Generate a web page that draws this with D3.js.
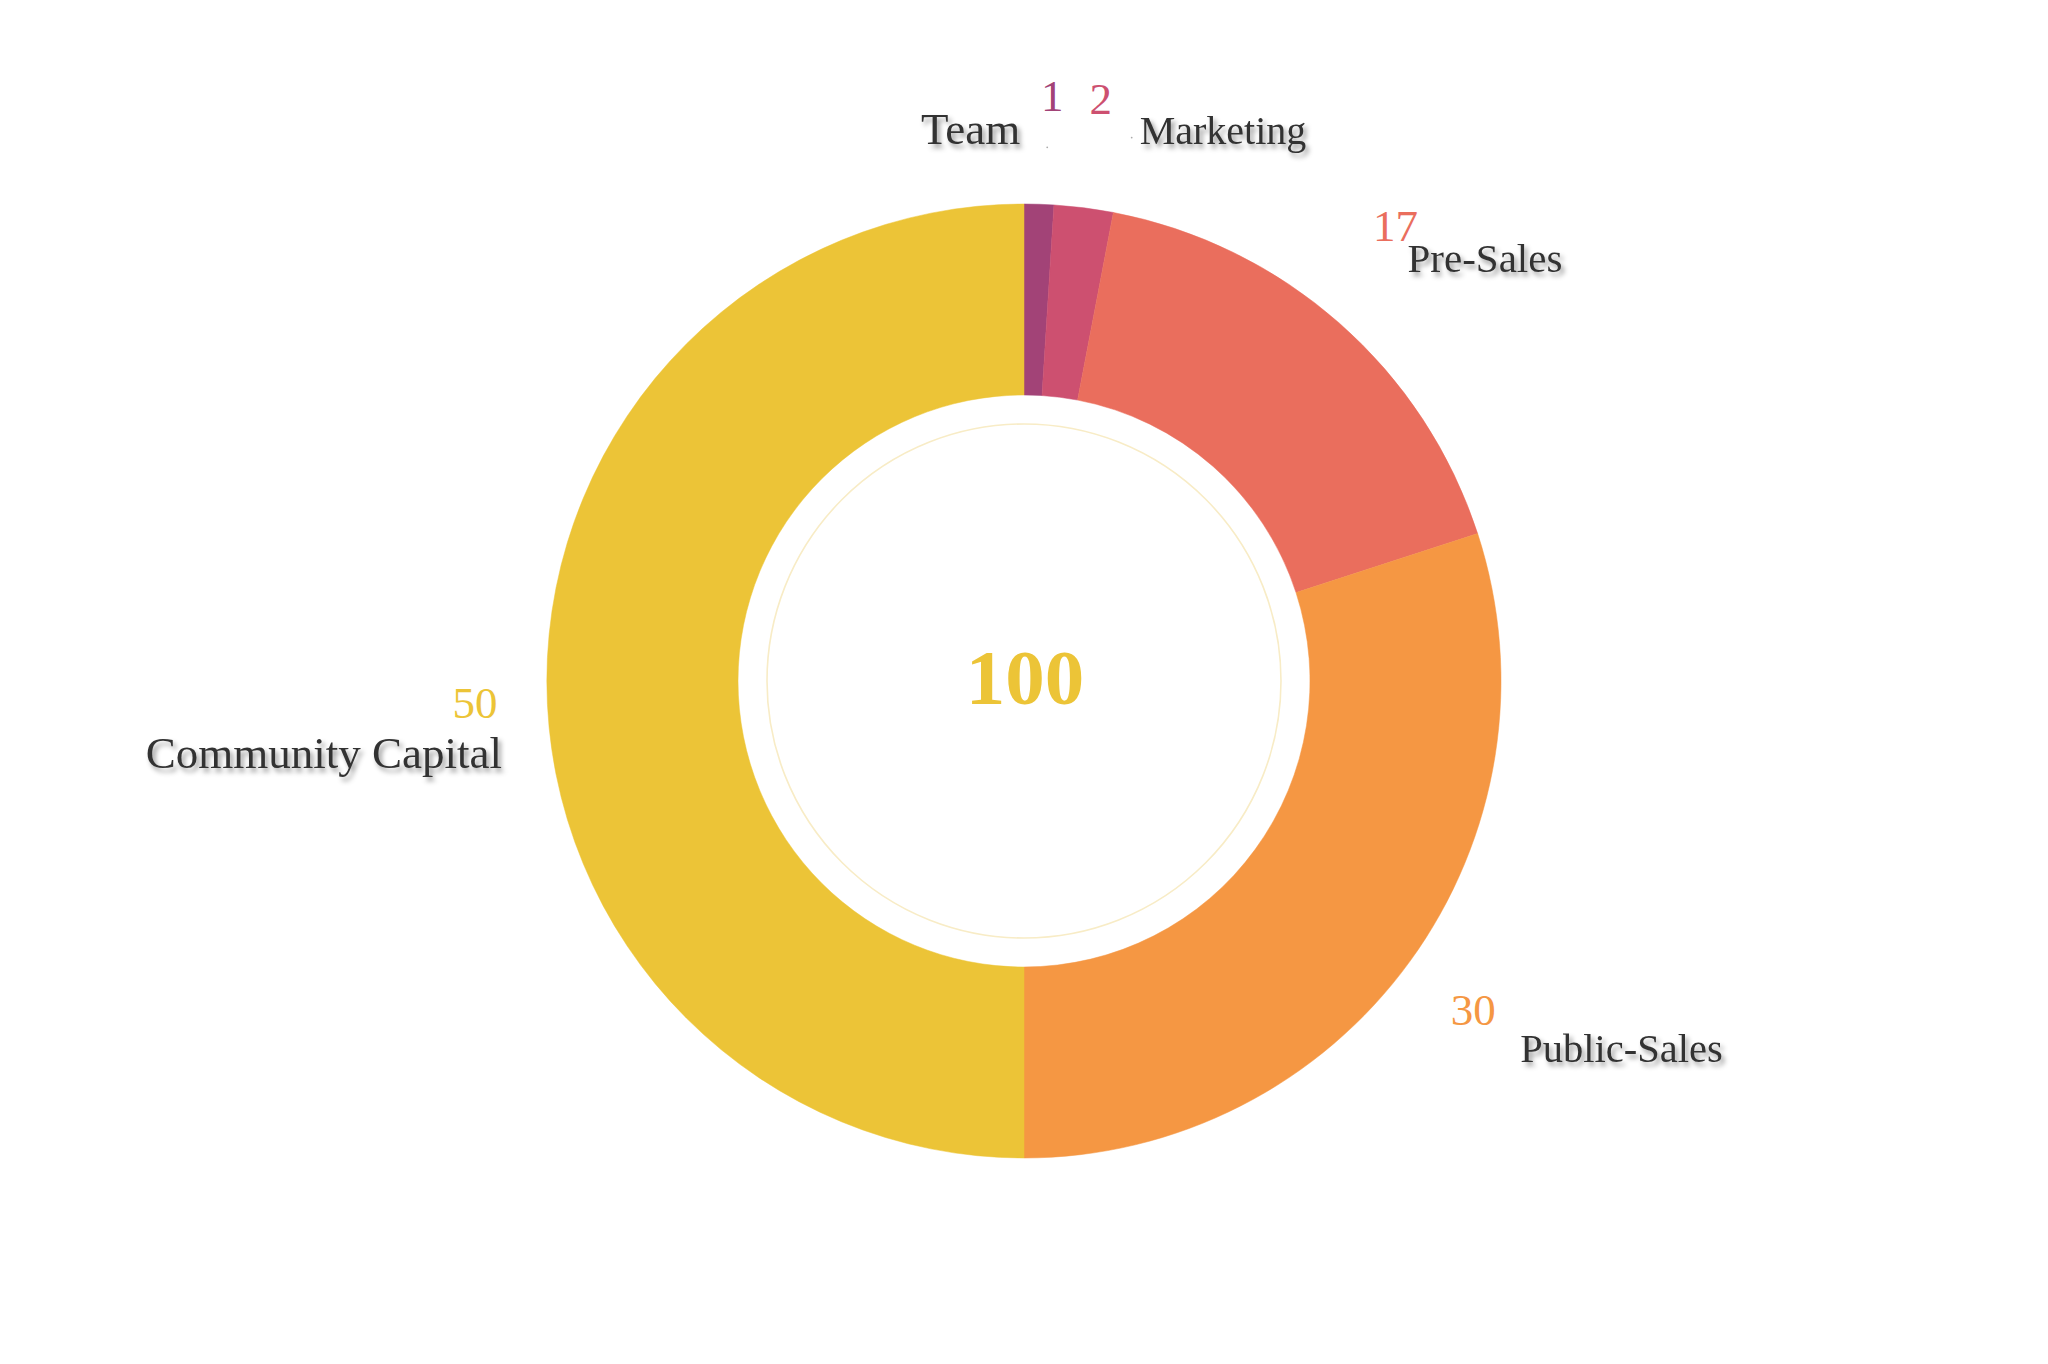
<!DOCTYPE html>
<html>
<head>
<meta charset="utf-8">
<script src="https://cdn.jsdelivr.net/npm/d3@7"></script>
<style>
  html, body { margin: 0; padding: 0; background: #ffffff; }
  svg { display: block; }
</style>
</head>
<body>
<svg id="chart" width="2048" height="1364"></svg>
<script>
// ---- data ----
const categories = ["Team", "Marketing", "Pre-Sales", "Public-Sales", "Community Capital"];
const values = [1, 2, 17, 30, 50];
const colors = ["#a24377", "#cd5070", "#ea6e5d", "#f59743", "#ecc437"];
const totalLabel = "100";

// ---- layout (label nudges, not data) ----
const numOffsets = [[10, 10], [4, 8], [-12, -5], [-20, 3], [31, 37]];
const nameLayout = [
  { anchor: "end",   dx: -32, dy: 33, size: 45 },
  { anchor: "start", dx: 39,  dy: 30, size: 40 },
  { anchor: "start", dx: 12,  dy: 31, size: 41 },
  { anchor: "start", dx: 47,  dy: 37, size: 40.5 },
  { anchor: "end",   dx: 27,  dy: 50, size: 45 }
];

const cx = 1024, cy = 681;
const outerR = 477, innerR = 286, ringR = 257, labelR = 580;

const svg = d3.select("#chart");
const defs = svg.append("defs");
const f = defs.append("filter").attr("id", "shadow")
  .attr("x", "-20%").attr("y", "-40%").attr("width", "140%").attr("height", "180%");
f.append("feDropShadow").attr("dx", 3).attr("dy", 4).attr("stdDeviation", 2.6)
  .attr("flood-color", "#000").attr("flood-opacity", 0.4);

const g = svg.append("g").attr("transform", `translate(${cx},${cy})`);

const data = categories.map((c, i) => ({ name: c, value: values[i], color: colors[i], i }));
const pie = d3.pie().value(d => d.value).sort(null);
const arcs = pie(data);

const arc = d3.arc().innerRadius(innerR).outerRadius(outerR);
const labelArc = d3.arc().innerRadius(labelR).outerRadius(labelR);

g.selectAll("path.slice").data(arcs).enter().append("path")
  .attr("class", "slice")
  .attr("d", arc)
  .attr("fill", d => d.data.color)
  .attr("stroke", d => d.data.color)
  .attr("stroke-width", 0.5);

// inner thin ring
g.append("circle").attr("r", ringR).attr("fill", "none")
  .attr("stroke", "#f8ecc6").attr("stroke-width", 1.6);

// center total
g.append("text").attr("x", 1).attr("y", 23)
  .attr("text-anchor", "middle")
  .attr("font-family", "'Liberation Serif', 'Times New Roman', serif")
  .attr("font-weight", "bold").attr("font-size", 79)
  .attr("fill", colors[4]).text(totalLabel);

// labels
const numPos = d => {
  const c = labelArc.centroid(d);
  const o = numOffsets[d.data.i];
  return [c[0] + o[0], c[1] + o[1]];
};
const lbl = g.selectAll("g.lbl").data(arcs).enter().append("g").attr("class", "lbl");
lbl.append("text")
  .attr("x", d => numPos(d)[0])
  .attr("y", d => numPos(d)[1])
  .attr("text-anchor", "middle")
  .attr("font-family", "'Liberation Serif', 'Times New Roman', serif")
  .attr("font-size", 45)
  .attr("fill", d => d.data.color)
  .text(d => d.data.value);

lbl.append("text")
  .attr("x", d => numPos(d)[0] + nameLayout[d.data.i].dx)
  .attr("y", d => numPos(d)[1] + nameLayout[d.data.i].dy)
  .attr("text-anchor", d => nameLayout[d.data.i].anchor)
  .attr("font-family", "'Liberation Serif', 'Times New Roman', serif")
  .attr("font-size", d => nameLayout[d.data.i].size)
  .attr("fill", "#333333")
  .attr("filter", "url(#shadow)")
  .text(d => d.data.name);

// tiny label-line remnants for the two thin slices
g.selectAll("circle.dot").data(arcs.slice(0, 2)).enter().append("circle")
  .attr("class", "dot")
  .attr("cx", (d, i) => labelArc.centroid(d)[0] + (i === 0 ? 5 : 35))
  .attr("cy", (d, i) => labelArc.centroid(d)[1] + (i === 0 ? 46 : 32))
  .attr("r", 0.9).attr("fill", "#aaa");
</script>
</body>
</html>
